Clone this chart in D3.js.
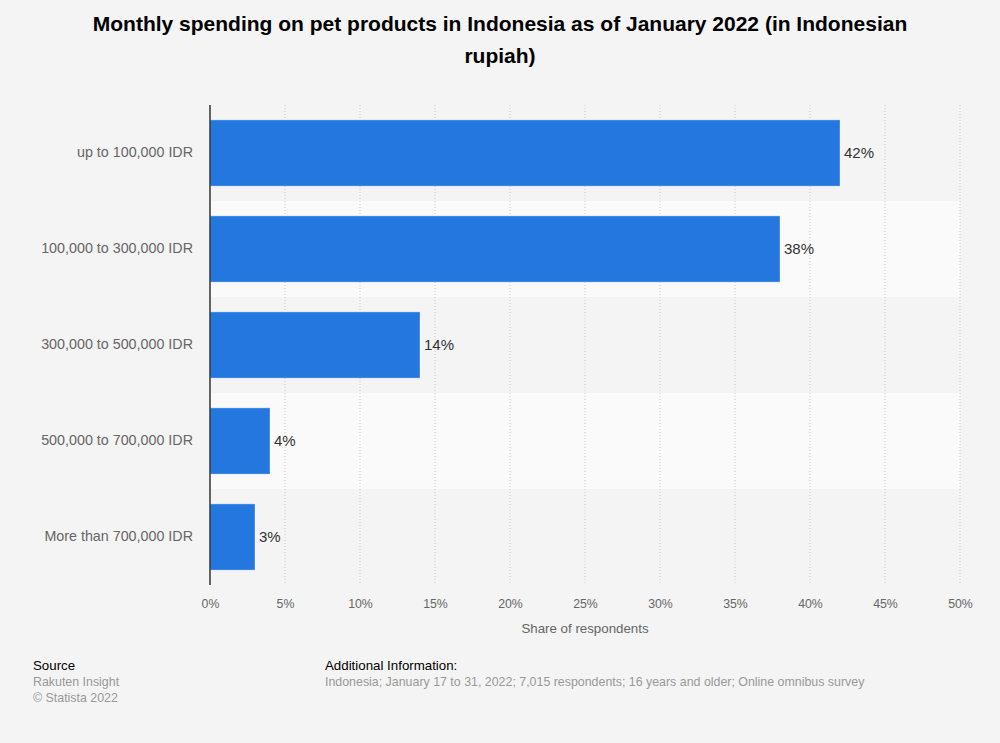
<!DOCTYPE html>
<html lang="en">
  <head>
    <meta charset="UTF-8" />
    <title>Monthly spending on pet products in Indonesia</title>
    <script src="https://d3js.org/d3.v7.min.js"></script>
    <style>
      body {
        margin: 0;
        background: #f4f4f4;
        font-family: 'Liberation Sans', Arial, sans-serif;
      }
      .title {
        font-size: 21px;
        font-weight: 700;
        fill: #000;
      }
      .cat-label {
        font-size: 14.3px;
        fill: #666;
      }
      .value-label {
        font-size: 15px;
        fill: #333;
      }
      .tick text {
        font-size: 12.3px;
        fill: #666;
      }
      .axis-title {
        font-size: 13.3px;
        fill: #666;
      }
      .foot-head {
        font-size: 13.3px;
        fill: #000;
      }
      .foot-text {
        font-size: 12.4px;
        fill: #999;
      }
    </style>
  </head>
  <body>
    <svg width="1000" height="743"></svg>
    <script>
      const categories = [
        'up to 100,000 IDR',
        '100,000 to 300,000 IDR',
        '300,000 to 500,000 IDR',
        '500,000 to 700,000 IDR',
        'More than 700,000 IDR',
      ];
      const values = [42, 38, 14, 4, 3];
      const tickValues = [0, 5, 10, 15, 20, 25, 30, 35, 40, 45, 50];

      const svg = d3.select('svg');
      const margin = { top: 105, right: 40, bottom: 158, left: 210 };
      const width = 1000 - margin.left - margin.right;
      const height = 743 - margin.top - margin.bottom;

      svg
        .append('rect')
        .attr('width', 1000)
        .attr('height', 743)
        .attr('fill', '#f4f4f4');

      svg
        .append('text')
        .attr('class', 'title')
        .attr('text-anchor', 'middle')
        .selectAll('tspan')
        .data([
          'Monthly spending on pet products in Indonesia as of January 2022 (in Indonesian',
          'rupiah)',
        ])
        .join('tspan')
        .attr('x', 500)
        .attr('y', (d, i) => 31 + i * 32)
        .text((d) => d);

      const g = svg
        .append('g')
        .attr('transform', `translate(${margin.left},${margin.top})`);

      const x = d3.scaleLinear().domain([0, 50]).range([0, width]);
      const y = d3
        .scaleBand()
        .domain(categories)
        .range([0, height])
        .paddingInner(0)
        .paddingOuter(0);

      // alternating band backgrounds
      g.selectAll('.band')
        .data(categories)
        .join('rect')
        .attr('class', 'band')
        .attr('x', 0)
        .attr('y', (d) => y(d))
        .attr('width', width)
        .attr('height', y.bandwidth())
        .attr('fill', (d, i) => (i % 2 ? '#fafafa' : '#f4f4f4'));

      // dotted gridlines
      g.selectAll('.grid')
        .data(tickValues.slice(1))
        .join('line')
        .attr('x1', (d) => x(d))
        .attr('x2', (d) => x(d))
        .attr('y1', 0)
        .attr('y2', height)
        .attr('stroke', '#c8c8c8')
        .attr('stroke-dasharray', '1,2');

      const barPad = 0.31;
      const barH = y.bandwidth() * (1 - barPad);

      g.selectAll('.bar')
        .data(values)
        .join('rect')
        .attr('class', 'bar')
        .attr('x', 0)
        .attr('y', (d, i) => y(categories[i]) + (y.bandwidth() - barH) / 2)
        .attr('width', (d) => x(d))
        .attr('height', barH)
        .attr('fill', '#2477de')
        .attr('stroke', '#ffffff')
        .attr('stroke-opacity', 0.35)
        .attr('stroke-width', 1);

      g.selectAll('.value-label')
        .data(values)
        .join('text')
        .attr('class', 'value-label')
        .attr('x', (d) => x(d) + 4)
        .attr('y', (d, i) => y(categories[i]) + y.bandwidth() / 2)
        .attr('dy', '0.3em')
        .text((d) => d + '%');

      g.selectAll('.cat-label')
        .data(categories)
        .join('text')
        .attr('class', 'cat-label')
        .attr('x', -17)
        .attr('y', (d) => y(d) + y.bandwidth() / 2)
        .attr('dy', '0.3em')
        .attr('text-anchor', 'end')
        .text((d) => d);

      const xAxis = g
        .append('g')
        .attr('transform', `translate(0,${height})`)
        .call(
          d3
            .axisBottom(x)
            .tickValues(tickValues)
            .tickSize(0)
            .tickPadding(14)
            .tickFormat((d) => d + '%')
        );
      xAxis.select('.domain').remove();

      g.append('line')
        .attr('x1', 0)
        .attr('x2', 0)
        .attr('y1', 0)
        .attr('y2', height)
        .attr('stroke', '#333')
        .attr('stroke-width', 1.5);

      g.append('text')
        .attr('class', 'axis-title')
        .attr('x', width / 2)
        .attr('y', height + 48)
        .attr('text-anchor', 'middle')
        .text('Share of respondents');

      // footer
      const foot = svg.append('g');
      foot
        .append('text')
        .attr('class', 'foot-head')
        .attr('x', 33)
        .attr('y', 670)
        .text('Source');
      foot
        .append('text')
        .attr('class', 'foot-text')
        .attr('x', 33)
        .attr('y', 686)
        .text('Rakuten Insight');
      foot
        .append('text')
        .attr('class', 'foot-text')
        .attr('x', 33)
        .attr('y', 702)
        .text('© Statista 2022');
      foot
        .append('text')
        .attr('class', 'foot-head')
        .attr('x', 325)
        .attr('y', 670)
        .text('Additional Information:');
      foot
        .append('text')
        .attr('class', 'foot-text')
        .attr('x', 325)
        .attr('y', 686)
        .text(
          'Indonesia; January 17 to 31, 2022; 7,015 respondents; 16 years and older; Online omnibus survey'
        );
    </script>
  </body>
</html>
